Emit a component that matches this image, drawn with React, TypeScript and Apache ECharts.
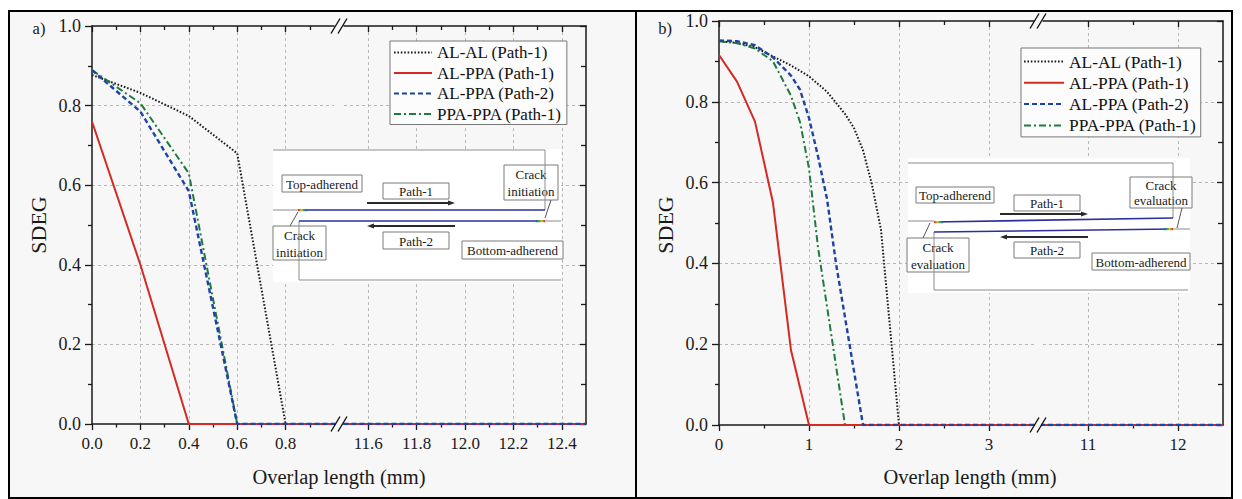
import React, { useEffect, useRef } from "react";
import * as echarts from "echarts";

const FONT = "'Liberation Serif', 'Times New Roman', Times, serif";

const seriesNames = ["AL-AL (Path-1)", "AL-PPA (Path-1)", "AL-PPA (Path-2)", "PPA-PPA (Path-1)"];

// ---- Panel (a): [overlap length (mm), SDEG]
const aAlAlPath1 = [[0, 0.877], [0.2, 0.832], [0.4, 0.774], [0.6, 0.68], [0.8, 0], [12.5, 0]];
const aAlPpaPath1 = [[0, 0.76], [0.2, 0.4], [0.4, 0], [12.5, 0]];
const aAlPpaPath2 = [[0, 0.889], [0.2, 0.785], [0.4, 0.585], [0.6, 0], [12.5, 0]];
const aPpaPpaPath1 = [[0, 0.889], [0.2, 0.806], [0.4, 0.63], [0.6, 0], [12.5, 0]];

// ---- Panel (b)
const bAlAlPath1 = [[0, 0.95], [0.2, 0.946], [0.4, 0.935], [0.6, 0.912], [0.8, 0.89], [1.0, 0.863], [1.2, 0.825], [1.4, 0.77], [1.5, 0.735], [1.6, 0.68], [1.7, 0.595], [1.8, 0.483], [2.0, 0], [12.5, 0]];
const bAlPpaPath1 = [[0, 0.916], [0.2, 0.85], [0.4, 0.751], [0.6, 0.55], [0.8, 0.185], [1.0, 0], [12.5, 0]];
const bAlPpaPath2 = [[0, 0.952], [0.2, 0.95], [0.4, 0.94], [0.6, 0.91], [0.8, 0.865], [0.9, 0.83], [1.0, 0.76], [1.1, 0.665], [1.2, 0.56], [1.3, 0.4], [1.6, 0], [12.5, 0]];
const bPpaPpaPath1 = [[0, 0.95], [0.2, 0.945], [0.4, 0.932], [0.6, 0.9], [0.8, 0.815], [0.9, 0.75], [1.0, 0.635], [1.1, 0.44], [1.4, 0], [12.5, 0]];

// ---- axis ticks
const aLeftRange = [0, 1.0];
const aRightRange = [11.5, 12.5];
const bLeftRange = [0, 3.5];
const bRightRange = [10.5, 12.5];
const aLeftMajor = [0, 0.2, 0.4, 0.6, 0.8];
const aLeftMinor = [0.1, 0.3, 0.5, 0.7, 0.9];
const aRightMajor = [11.6, 11.8, 12.0, 12.2, 12.4];
const aRightMinor = [11.7, 11.9, 12.1, 12.3];
const bLeftMajor = [0, 1, 2, 3];
const bLeftMinor = [0.5, 1.5, 2.5];
const bRightMajor = [11, 12];
const bRightMinor = [11.5];
const aLeftGrid = [0.2, 0.4, 0.6, 0.8];
const bLeftGrid = [1, 2, 3];
const yGridValues = [0.2, 0.4, 0.6, 0.8];

const BLACK = "#1a1a1a";
const styles: Record<string, any> = {
  "AL-AL (Path-1)": { color: "#1c1c1c", width: 2, type: [1.6, 1.8] },
  "AL-PPA (Path-1)": { color: "#d42a22", width: 2, type: "solid" },
  "AL-PPA (Path-2)": { color: "#1e43a8", width: 2.4, type: [5, 3] },
  "PPA-PPA (Path-1)": { color: "#1f7a3e", width: 2, type: [7, 3, 2, 3] },
};

const panelA = [
  { name: seriesNames[0], data: aAlAlPath1 },
  { name: seriesNames[3], data: aPpaPpaPath1 },
  { name: seriesNames[1], data: aAlPpaPath1 },
  { name: seriesNames[2], data: aAlPpaPath2 },
];
const panelB = [
  { name: seriesNames[0], data: bAlAlPath1 },
  { name: seriesNames[3], data: bPpaPpaPath1 },
  { name: seriesNames[1], data: bAlPpaPath1 },
  { name: seriesNames[2], data: bAlPpaPath2 },
];

const fmt1 = (v: number) => v.toFixed(1);
const fmt0 = (v: number) => String(Math.round(v));

const segments = [
  { left: 92, top: 26, width: 242, height: 398, range: aLeftRange, major: aLeftMajor, minor: aLeftMinor, gx: aLeftGrid, fmt: fmt1, yLeft: true, defs: panelA },
  { left: 344, top: 26, width: 242, height: 398, range: aRightRange, major: aRightMajor, minor: aRightMinor, gx: aRightMajor, fmt: fmt1, yLeft: false, defs: panelA },
  { left: 719, top: 21, width: 315, height: 404, range: bLeftRange, major: bLeftMajor, minor: bLeftMinor, gx: bLeftGrid, fmt: fmt0, yLeft: true, defs: panelB },
  { left: 1043, top: 21, width: 180, height: 404, range: bRightRange, major: bRightMajor, minor: bRightMinor, gx: bRightMajor, fmt: fmt0, yLeft: false, defs: panelB },
];

function buildOption() {
  const grid: any[] = [];
  const xAxis: any[] = [];
  const yAxis: any[] = [];
  const series: any[] = [];
  const axisLine = { show: true, onZero: false, lineStyle: { color: BLACK, width: 1.5 } };
  const tickLine = { color: BLACK, width: 1.3 };
  const splitStyle = { show: true, lineStyle: { color: "#b8b8b8", width: 1, type: [3, 3] } };

  segments.forEach((s, g) => {
    grid.push({ left: s.left, top: s.top, width: s.width, height: s.height, containLabel: false });
    const base = { gridIndex: g, type: "value", min: s.range[0], max: s.range[1], silent: true };
    const xb = xAxis.length;
    xAxis.push({
      ...base, position: "bottom", z: 1, axisLine,
      axisTick: { show: true, inside: false, length: 6, customValues: s.major, lineStyle: tickLine },
      axisLabel: { show: true, customValues: s.major, formatter: s.fmt, margin: 11, fontFamily: FONT, fontSize: 17, color: BLACK },
      splitLine: { show: false }, minorTick: { show: false },
    });
    xAxis.push({
      ...base, position: "bottom", z: 1, axisLine: { show: false, onZero: false },
      axisTick: { show: true, inside: false, length: 3.5, customValues: s.minor, lineStyle: tickLine },
      axisLabel: { show: false }, splitLine: { show: false },
    });
    xAxis.push({
      ...base, position: "top", z: 1, axisLine,
      axisTick: { show: true, inside: true, length: 6, customValues: s.major, lineStyle: tickLine },
      axisLabel: { show: false }, splitLine: { show: false },
    });
    xAxis.push({
      ...base, position: "top", z: 1, axisLine: { show: false, onZero: false },
      axisTick: { show: true, inside: true, length: 4, customValues: s.minor, lineStyle: tickLine },
      axisLabel: { show: false }, splitLine: { show: false },
    });
    xAxis.push({
      ...base, position: "bottom", z: 0, axisLine: { show: false, onZero: false },
      axisTick: { show: true, length: 0, customValues: s.gx, lineStyle: { width: 0 } },
      axisLabel: { show: false }, splitLine: splitStyle,
    });

    const yb = yAxis.length;
    yAxis.push({
      gridIndex: g, type: "value", min: 0, max: 1, interval: 0.2, silent: true,
      position: s.yLeft ? "left" : "right", z: 1, axisLine,
      axisTick: { show: true, inside: !s.yLeft, length: s.yLeft ? 7 : 6, lineStyle: tickLine },
      minorTick: { show: true, splitNumber: 2, length: s.yLeft ? 4 : 5, lineStyle: tickLine },
      axisLabel: { show: s.yLeft, formatter: fmt1, margin: 11, fontFamily: FONT, fontSize: 18, color: BLACK },
      splitLine: { show: false },
    });
    yAxis.push({
      gridIndex: g, type: "value", min: 0, max: 1, silent: true, position: "left", z: 0,
      axisLine: { show: false, onZero: false },
      axisTick: { show: true, length: 0, customValues: yGridValues, lineStyle: { width: 0 } },
      axisLabel: { show: false }, splitLine: splitStyle, minorTick: { show: false },
    });

    s.defs.forEach((d) => {
      const st = styles[d.name];
      series.push({
        type: "line", name: d.name, xAxisIndex: xb, yAxisIndex: yb, data: d.data,
        symbol: "none", showSymbol: false, clip: true, z: 2, silent: true,
        lineStyle: { color: st.color, width: st.width, type: st.type },
        itemStyle: { color: st.color },
        emphasis: { disabled: true },
      });
    });
  });

  const legendBase = {
    orient: "vertical", selectedMode: false, data: seriesNames,
    borderColor: "#777", borderWidth: 1, backgroundColor: "#fcfcfc", borderRadius: 0,
    itemHeight: 12, align: "left",
    itemStyle: { color: "rgba(0,0,0,0)", borderWidth: 0, opacity: 0 },
  };
  const legend = [
    { ...legendBase, left: 390, top: 41, padding: [3, 5, 2, 3], itemWidth: 38, itemGap: 3.5,
      textStyle: { fontFamily: FONT, fontSize: 17, color: "#111", lineHeight: 17 } },
    { ...legendBase, left: 1021, top: 48, padding: [5, 4, 3, 2], itemWidth: 40, itemGap: 4.3,
      textStyle: { fontFamily: FONT, fontSize: 17.4, color: "#111", lineHeight: 17 } },
  ];

  return { animation: false, backgroundColor: "#ffffff", grid, xAxis, yAxis, series, legend, graphic: { elements: buildGraphics() } };
}

function txt(x: number, y: number, text: string, size: number, extra: any = {}) {
  return {
    type: "text", x, y, z: extra.z ?? 6, rotation: extra.rotation ?? 0, silent: true,
    style: { text, fontFamily: FONT, fontSize: size, fill: extra.fill ?? "#1a1a1a", align: extra.align ?? "center", verticalAlign: "middle", textAlign: extra.align ?? "center", textVerticalAlign: "middle" },
  };
}
function ln(x1: number, y1: number, x2: number, y2: number, stroke: string, lw: number, z = 7) {
  return { type: "line", z, silent: true, shape: { x1, y1, x2, y2 }, style: { stroke, lineWidth: lw } };
}
function poly(points: number[][], stroke: string, lw: number, z = 7) {
  return { type: "polyline", z, silent: true, shape: { points }, style: { stroke, lineWidth: lw, fill: "none" } };
}
function box(x: number, y: number, w: number, h: number, lines: string[], size = 13) {
  const els: any[] = [
    { type: "rect", z: 5, silent: true, shape: { x, y, width: w, height: h }, style: { fill: "#ffffff", stroke: "#7a7a7a", lineWidth: 1 } },
  ];
  const n = lines.length;
  const lh = h / n;
  lines.forEach((t, i) => els.push(txt(x + w / 2, y + lh * (i + 0.5) + 0.5, t, size, { z: 6 })));
  return els;
}
function arrow(x1: number, x2: number, y: number) {
  const dir = x2 > x1 ? 1 : -1;
  return [
    ln(x1, y, x2 - dir * 5, y, "#2a2a2a", 2, 7),
    { type: "polygon", z: 7, silent: true, shape: { points: [[x2, y], [x2 - dir * 7, y - 2.6], [x2 - dir * 7, y + 2.6]] }, style: { fill: "#2a2a2a" } },
  ];
}
function rainbow(x: number, y: number, w: number, reverse: boolean) {
  const stops = [
    { offset: 0, color: "#d62020" }, { offset: 0.35, color: "#e8c020" }, { offset: 0.65, color: "#30b040" }, { offset: 1, color: "#3050d0" },
  ];
  const s = reverse ? stops.map((t) => ({ offset: 1 - t.offset, color: t.color })).reverse() : stops;
  return { type: "rect", z: 8, silent: true, shape: { x, y: y - 1, width: w, height: 2.2 }, style: { fill: new echarts.graphic.LinearGradient(0, 0, 1, 0, s) } };
}
function breakMark(cx: number, cy: number) {
  return [
    ln(cx - 8, cy + 7.5, cx + 1, cy - 7.5, "#111", 1.4, 9),
    ln(cx - 1, cy + 7.5, cx + 8, cy - 7.5, "#111", 1.4, 9),
  ];
}

function buildGraphics() {
  const G = "#8c8c8c";
  const BL = "#2b2f9e";
  const els: any[] = [];
  // panel frame & backgrounds
  els.push({ type: "rect", z: -5, silent: true, shape: { x: 9, y: 11, width: 1223, height: 487 }, style: { fill: "#f7f7f7", stroke: "none" } });
  els.push({ type: "rect", z: 9, silent: true, shape: { x: 9, y: 11, width: 1223, height: 487 }, style: { fill: "none", stroke: "#000", lineWidth: 2 } });
  els.push(ln(636, 11, 636, 498, "#000", 2, 9));

  // titles
  els.push(txt(39, 28, "a)", 16.5));
  els.push(txt(665, 28, "b)", 16.5));
  els.push(txt(38, 225, "SDEG", 22, { rotation: Math.PI / 2 }));
  els.push(txt(665, 225, "SDEG", 22, { rotation: Math.PI / 2 }));
  els.push(txt(339, 477, "Overlap length (mm)", 20.5));
  els.push(txt(970, 477, "Overlap length (mm)", 20.5));

  // axis breaks
  els.push(...breakMark(339, 424), ...breakMark(339, 26), ...breakMark(1038, 425), ...breakMark(1038, 21));

  // ---- inset (a)
  els.push({ type: "rect", z: 1, silent: true, shape: { x: 273, y: 149, width: 288, height: 133 }, style: { fill: "#ffffff" } });
  els.push(...box(282, 175, 80, 17, ["Top-adherend"]));
  els.push(...box(383, 183, 66, 16, ["Path-1"]));
  els.push(...box(504, 165, 54, 35, ["Crack", "initiation"]));
  els.push(...box(273, 226, 53, 34, ["Crack", "initiation"]));
  els.push(...box(383, 232, 66, 17, ["Path-2"]));
  els.push(...box(462, 241, 101, 18, ["Bottom-adherend"]));
  els.push(poly([[273, 150], [545, 150], [545, 210]], G, 1));
  els.push(ln(273, 210, 298, 210, G, 1));
  els.push(ln(545, 221, 561, 221, G, 1));
  els.push(poly([[299, 221], [299, 280], [561, 280]], G, 1));
  els.push(ln(298, 210, 545, 210, BL, 1.6, 8));
  els.push(ln(299, 221, 545, 221, BL, 1.6, 8));
  els.push(rainbow(298, 210, 9, false));
  els.push(rainbow(536, 221, 9, true));
  els.push(...arrow(367, 455, 203));
  els.push(...arrow(455, 367, 226));
  els.push(ln(551, 200, 545, 218, "#555", 1));
  els.push(ln(290, 226, 298, 212, "#555", 1));

  // ---- inset (b)
  els.push({ type: "rect", z: 1, silent: true, shape: { x: 908, y: 158, width: 282, height: 135 }, style: { fill: "#ffffff" } });
  els.push(...box(916, 187, 78, 16, ["Top-adherend"]));
  els.push(...box(1014, 195, 66, 16, ["Path-1"]));
  els.push(...box(1130, 177, 62, 31, ["Crack", "evaluation"]));
  els.push(...box(1014, 242, 66, 16, ["Path-2"]));
  els.push(...box(907, 238, 62, 34, ["Crack", "evaluation"]));
  els.push(...box(1092, 253, 98, 17, ["Bottom-adherend"]));
  els.push(poly([[908, 163], [1173, 163], [1173, 218]], G, 1));
  els.push(ln(908, 221, 934, 221, G, 1));
  els.push(ln(1173, 229, 1190, 229, G, 1));
  els.push(poly([[934, 232], [934, 290], [1188, 290]], G, 1));
  els.push(ln(934, 222, 1173, 218, BL, 1.6, 8));
  els.push(ln(934, 232, 1173, 229, BL, 1.6, 8));
  els.push(rainbow(934, 222, 9, false));
  els.push(rainbow(1164, 229, 9, true));
  els.push(...arrow(1000, 1088, 214));
  els.push(...arrow(1088, 1000, 237));
  els.push(ln(1182, 208, 1177, 228, "#555", 1));
  els.push(ln(923, 238, 930, 223, "#555", 1));
  return els;
}

export default function App() {
  const ref = useRef<HTMLDivElement>(null);
  useEffect(() => {
    if (!ref.current) return;
    const chart = echarts.init(ref.current, undefined, { renderer: "svg" });
    chart.setOption(buildOption() as any);
    return () => chart.dispose();
  }, []);
  return <div ref={ref} style={{ position: "fixed", left: 0, top: 0, width: 1242, height: 499 }} />;
}
